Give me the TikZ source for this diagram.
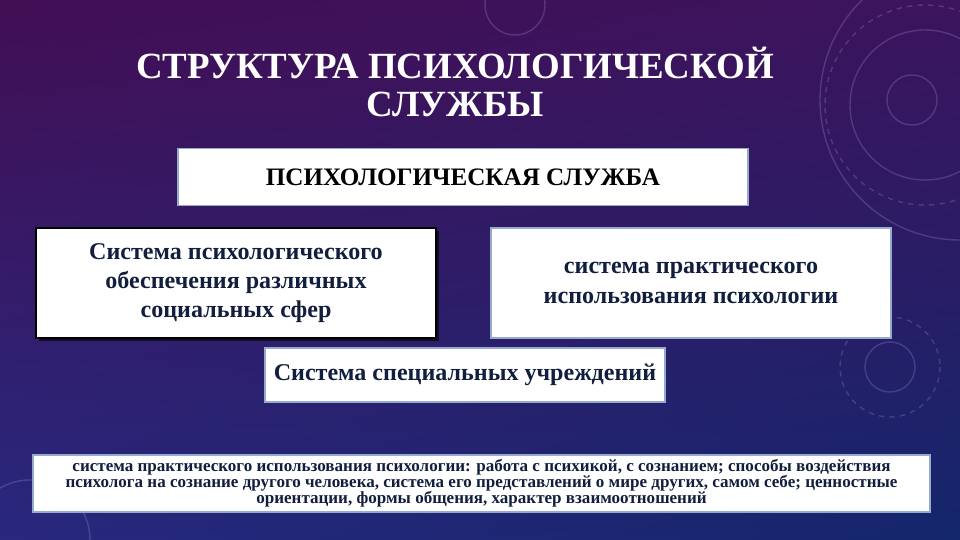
\documentclass[tikz,border=0pt]{standalone}
\usepackage{fontspec}
\setmainfont{Liberation Serif}
\usetikzlibrary{positioning}
\usetikzlibrary{shadows}
\usetikzlibrary{shadings}
\definecolor{navy}{RGB}{18,30,62}
\definecolor{boxline}{RGB}{150,170,205}
\definecolor{bgtl}{RGB}{66,14,84}
\definecolor{bgtr}{RGB}{60,20,94}
\definecolor{bgbl}{RGB}{40,40,126}
\definecolor{bgbr}{RGB}{20,38,108}
\definecolor{deco}{RGB}{170,160,220}

\begin{document}
\begin{tikzpicture}[x=0.02cm, y=-0.02cm,
    box/.style={draw=boxline, line width=1pt, fill=white, align=center,
      text=navy, font=\bfseries, inner sep=0pt},
    boxtext/.style={font=\bfseries\fontsize{13.7}{16.7}\selectfont},
    small/.style={font=\bfseries\fontsize{9.7}{9.1}\selectfont}]
  \useasboundingbox (0,0) rectangle (960,540);

  % background
  \shade[upper left=bgtl, upper right=bgtr, lower left=bgbl, lower right=bgbr]
    (0,0) rectangle (960,540);

  % decoration
  \begin{scope}[draw=deco, opacity=0.25, line width=0.8pt]
    \draw (912,100) circle (25);
    \draw (925,105) circle (75);
    \draw (960,100) circle (140);
    \draw[dashed] (925,105) circle (100);
    \draw (890,367) circle (25);
    \draw[dashed] (890,367) circle (50);
    \draw (515,5) circle (30);
    \draw (30,540) circle (60);
  \end{scope}

  % title
  \node[text=white, align=center, font=\bfseries\fontsize{21}{21.5}\selectfont] (title) at (455,82)
    {СТРУКТУРА ПСИХОЛОГИЧЕСКОЙ\\СЛУЖБЫ};

  % boxes
  \node[box, minimum width=11.4cm, minimum height=1.14cm,
        font=\bfseries\fontsize{14.3}{15}\selectfont, text=black] (service) at (463,177)
    {ПСИХОЛОГИЧЕСКАЯ СЛУЖБА};

  \node[box, boxtext, draw=black, line width=1.3pt, minimum width=8cm, minimum height=2.2cm,
        drop shadow={shadow xshift=1.5pt, shadow yshift=-1.5pt, fill=black, opacity=0.6}]
    (social) at (236,283)
    {Система психологического\\обеспечения различных\\социальных сфер};

  \node[box, boxtext, minimum width=8cm, minimum height=2.2cm] (practice) at (691,283)
    {система практического\\использования психологии};

  \node[box, boxtext, minimum width=8cm, minimum height=1.08cm] (inst) at (465,375)
    {Система специальных учреждений};

  \node[box, small, minimum width=17.94cm, minimum height=1.14cm] (note) at (481.5,483.5)
    {система практического использования психологии: работа с психикой, с сознанием; способы воздействия\\
     психолога на сознание другого человека, система его представлений о мире других, самом себе; ценностные\\
     ориентации, формы общения, характер взаимоотношений};
\end{tikzpicture}
\end{document}
